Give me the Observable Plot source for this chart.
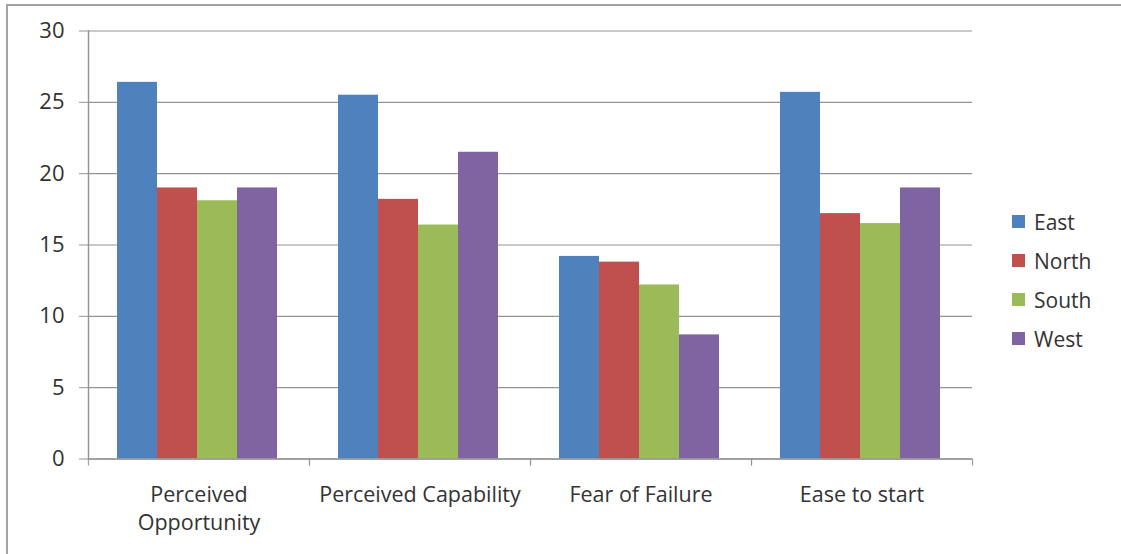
<!DOCTYPE html>
<html>
<head>
<meta charset="utf-8">
<script src="https://cdn.jsdelivr.net/npm/d3@7"></script>
<script src="https://cdn.jsdelivr.net/npm/@observablehq/plot@0.6"></script>
<style>
  html, body { margin: 0; padding: 0; background: #fff; }
  #wrap { position: relative; width: 1121px; height: 554px; overflow: hidden; font-family: "Open Sans", sans-serif; }
  #border { position: absolute; left: 6px; top: 4px; right: -10px; bottom: -10px; border-top: 2px solid #a3a3a3; border-left: 2px solid #a3a3a3; }
  #chart { position: absolute; left: 0; top: 0; }
  #legend { position: absolute; left: 1012px; top: 202px; }
  .item { display: flex; align-items: center; height: 39px; font-size: 21px; color: #333; }
  .sw { width: 13px; height: 13px; margin-right: 9px; }
</style>
</head>
<body>
<div id="wrap">
  <div id="border"></div>
  <div id="chart"></div>
  <div id="legend"></div>
</div>
<script>
const categories = ["Perceived Opportunity", "Perceived Capability", "Fear of Failure", "Ease to start"];
const categoryLabels = ["Perceived\nOpportunity", "Perceived Capability", "Fear of Failure", "Ease to start"];
const regions = ["East", "North", "South", "West"];
const east  = [26.4, 25.5, 14.2, 25.7];
const north = [19.0, 18.2, 13.8, 17.2];
const south = [18.1, 16.4, 12.2, 16.5];
const west  = [19.0, 21.5, 8.7, 19.0];
const yTicks = [0, 5, 10, 15, 20, 25, 30];
const colors = ["#4F81BD", "#C0504D", "#9BBB59", "#8064A2"];

const series = [east, north, south, west];
const data = [];
categories.forEach((c, i) => regions.forEach((r, j) => data.push({cat: c, region: r, value: series[j][i]})));

const W = 1121, H = 554, mL = 87, mR = 149, mT = 30.5, mB = 95.5;
const halfBand = (W - mL - mR) / categories.length / 2;
const gray = "#939393";
const textColor = "#333";

const chart = Plot.plot({
  width: W, height: H,
  marginLeft: mL, marginRight: mR, marginTop: mT, marginBottom: mB,
  style: {fontFamily: "Open Sans, sans-serif", fontSize: "21px", background: "transparent"},
  fx: {domain: categories, padding: 0, label: null},
  x: {domain: regions, paddingInner: 0, paddingOuter: 0.7625, align: 0.47, axis: null},
  y: {domain: [0, 30], label: null},
  color: {domain: regions, range: colors},
  marks: [
    Plot.gridY(yTicks, {stroke: gray, strokeOpacity: 1, strokeWidth: 1.2}),
    Plot.barY(data, {fx: "cat", x: "region", y: "value", fill: "region"}),
    Plot.ruleY([0], {stroke: gray, strokeWidth: 1.4}),
    Plot.frame({anchor: "left", facet: "super", stroke: gray, strokeWidth: 1.4}),
    Plot.axisY(yTicks, {tickSize: 9, tickPadding: 15, fontSize: 22, stroke: gray, fill: textColor, label: null}),
    Plot.axisFx({anchor: "bottom", tickSize: 7, tickFormat: () => "", dx: -halfBand, stroke: gray, label: null}),
    Plot.axisFx({anchor: "bottom", tickSize: 7, tickFormat: () => "", dx: halfBand, stroke: gray, label: null}),
    Plot.text(categories, {fx: d => d, text: d => categoryLabels[categories.indexOf(d)], frameAnchor: "bottom", lineAnchor: "top", dy: 24, lineHeight: 1.27, fontSize: 21.5, fill: textColor})
  ]
});
document.getElementById("chart").appendChild(chart);

const legend = document.getElementById("legend");
regions.forEach((r, i) => {
  const item = document.createElement("div");
  item.className = "item";
  const sw = document.createElement("div");
  sw.className = "sw";
  sw.style.background = colors[i];
  const t = document.createElement("span");
  t.textContent = r;
  item.appendChild(sw);
  item.appendChild(t);
  legend.appendChild(item);
});
</script>
</body>
</html>
